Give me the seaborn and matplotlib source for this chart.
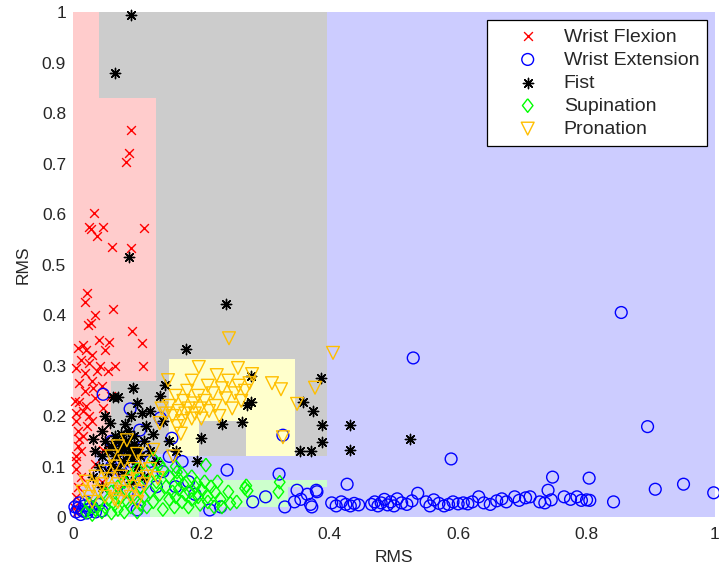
import numpy as np
import pandas as pd
import matplotlib
matplotlib.use("Agg")
import matplotlib.pyplot as plt
from matplotlib.patches import Rectangle
import seaborn as sns

# ---------------- data ----------------
classes = ["Wrist Flexion", "Wrist Extension", "Fist", "Supination", "Pronation"]

flex_x = [0.090,0.087,0.083,0.033,0.025,0.028,0.047,0.037,0.110,0.061,0.090,0.022,0.019,0.062,0.034,0.023,0.028,0.092,0.107,0.056,
          0.109,0.042,0.015,0.008,0.020,0.030,0.012,0.025,0.005,0.038,0.018,0.030,0.010,0.031,0.003,0.010,0.020,0.015,0.005,0.025,
          0.005,0.030,0.008,0.015,0.010,0.008,0.005,0.005,0.005,0.047,0.047,0.060,0.045,0.035,0.018,0.055,0.065,0.050,0.040,0.012,
          0.008,0.004,0.002,0.006,0.035,0.012,0.022,0.065,0.070,0.045]
flex_y = [0.766,0.720,0.703,0.602,0.574,0.570,0.574,0.556,0.572,0.535,0.533,0.444,0.426,0.412,0.400,0.380,0.385,0.368,0.345,0.347,
          0.300,0.300,0.340,0.335,0.330,0.320,0.310,0.305,0.295,0.290,0.285,0.270,0.265,0.255,0.230,0.228,0.220,0.210,0.205,0.200,
          0.190,0.190,0.170,0.160,0.155,0.140,0.120,0.110,0.095,0.215,0.133,0.240,0.260,0.235,0.250,0.290,0.300,0.330,0.350,0.080,
          0.060,0.040,0.020,0.010,0.105,0.130,0.180,0.090,0.055,0.070]

ext_x = [0.854,0.530,0.895,0.589,0.747,0.804,0.907,0.951,0.998,0.842,0.427,0.380,0.537,0.740,0.327,0.240,0.321,0.349,0.379,0.370,
         0.372,0.047,0.089,0.104,0.136,0.154,0.100,0.213,0.150,0.120,0.170,0.180,0.060,0.070,0.110,0.130,
         0.403,0.410,0.418,0.425,0.432,0.438,0.445,0.465,0.470,0.475,0.480,0.485,0.490,0.495,0.500,0.505,0.512,0.520,0.528,
         0.550,0.556,0.562,0.570,0.578,0.585,0.592,0.600,0.608,0.615,0.622,0.632,0.640,0.650,0.660,0.668,0.675,0.688,0.695,
         0.705,0.712,0.727,0.735,0.745,0.765,0.775,0.785,0.792,0.800,0.805,
         0.005,0.008,0.012,0.015,0.018,0.010,0.022,0.025,0.030,0.035,0.040,0.003,0.020,0.045,
         0.060,0.075,0.090,0.105,0.085,0.140,0.160,0.190,0.230,0.280,0.300,0.330,0.345,0.355,0.365]
ext_y = [0.405,0.315,0.179,0.115,0.079,0.077,0.055,0.065,0.048,0.030,0.065,0.050,0.047,0.053,0.162,0.093,0.085,0.053,0.053,0.025,
         0.020,0.243,0.214,0.172,0.196,0.156,0.014,0.014,0.120,0.110,0.110,0.070,0.150,0.130,0.140,0.060,
         0.028,0.022,0.030,0.025,0.022,0.027,0.024,0.025,0.030,0.022,0.028,0.035,0.024,0.030,0.022,0.036,0.028,0.025,0.032,
         0.030,0.022,0.034,0.027,0.022,0.025,0.030,0.026,0.028,0.026,0.030,0.040,0.028,0.025,0.032,0.036,0.030,0.040,0.033,
         0.038,0.040,0.030,0.028,0.034,0.040,0.035,0.040,0.033,0.034,0.033,
         0.010,0.018,0.005,0.012,0.022,0.028,0.008,0.015,0.020,0.010,0.025,0.020,0.030,0.012,
         0.100,0.090,0.110,0.070,0.050,0.090,0.060,0.045,0.020,0.030,0.040,0.020,0.030,0.035,0.045]

fist_x = [0.090,0.065,0.088,0.238,0.176,0.093,0.062,0.070,0.135,0.143,0.058,0.081,0.107,0.114,0.031,0.193,0.031,0.232,0.263,0.200,
          0.354,0.388,0.388,0.374,0.358,0.386,0.277,0.278,0.271,0.431,0.432,0.525,0.370,
          0.050,0.055,0.060,0.065,0.070,0.072,0.075,0.078,0.080,0.082,0.085,0.088,0.090,0.092,0.095,0.098,0.100,0.105,0.110,
          0.065,0.075,0.085,0.095,0.060,0.070,0.045,0.040,0.120,0.125,0.130,0.140,0.045,0.050,0.090,0.100,0.120,0.035,0.055,
          0.080,0.100,0.110,0.090,0.045,0.150,0.160]
fist_y = [0.995,0.880,0.515,0.422,0.333,0.255,0.238,0.238,0.240,0.261,0.186,0.184,0.205,0.180,0.154,0.111,0.080,0.185,0.188,0.157,
          0.131,0.149,0.183,0.210,0.228,0.275,0.279,0.228,0.222,0.133,0.183,0.154,0.130,
          0.150,0.130,0.140,0.120,0.150,0.130,0.140,0.110,0.135,0.150,0.125,0.140,0.130,0.115,0.145,0.125,0.135,0.120,0.150,
          0.160,0.165,0.170,0.160,0.105,0.095,0.120,0.100,0.130,0.165,0.110,0.190,0.170,0.200,0.200,0.225,0.210,0.130,0.090,
          0.085,0.100,0.080,0.070,0.060,0.150,0.130]

sup_x = [0.207,0.268,0.270,0.272,0.322,0.320,0.242,0.221,0.232,0.245,0.193,0.162,0.165,0.210,0.230,0.255,
         0.105,0.110,0.115,0.120,0.125,0.130,0.135,0.140,0.145,0.150,0.155,0.158,0.160,0.165,0.170,0.172,0.175,0.180,0.182,
         0.185,0.190,0.195,0.198,0.200,0.205,0.210,0.215,0.220,0.225,0.150,0.170,0.185,0.140,0.128,0.160,0.115,
         0.020,0.025,0.030,0.035,0.040,0.045,0.050,0.055,0.060,0.065,0.070,0.075,0.080,0.085,0.090,0.095,0.100,0.105,
         0.070,0.080,0.090,0.060,0.050,0.125,0.135,0.100]
sup_y = [0.103,0.057,0.062,0.052,0.069,0.050,0.050,0.050,0.020,0.027,0.067,0.089,0.075,0.040,0.035,0.030,
         0.060,0.040,0.020,0.050,0.030,0.070,0.045,0.015,0.060,0.035,0.050,0.020,0.040,0.055,0.030,0.065,0.045,0.020,0.050,
         0.035,0.060,0.040,0.025,0.055,0.070,0.030,0.060,0.020,0.070,0.080,0.085,0.080,0.095,0.085,0.100,0.090,
         0.010,0.025,0.005,0.015,0.030,0.010,0.020,0.035,0.008,0.025,0.015,0.040,0.010,0.030,0.020,0.045,0.010,0.025,
         0.060,0.070,0.080,0.050,0.045,0.115,0.105,0.095]

pro_x = [0.243,0.405,0.377,0.349,0.310,0.324,0.196,0.257,0.279,0.224,0.148,0.327,0.135,0.084,0.125,0.156,0.132,
         0.150,0.155,0.160,0.165,0.170,0.172,0.175,0.178,0.180,0.185,0.188,0.190,0.195,0.198,0.200,0.205,0.210,0.212,0.218,
         0.222,0.228,0.232,0.238,0.242,0.248,0.252,0.258,0.262,0.268,0.275,0.162,0.168,0.145,0.138,0.185,
         0.015,0.020,0.025,0.030,0.035,0.040,0.045,0.050,0.055,0.060,0.065,0.070,0.075,0.080,0.085,0.090,0.095,0.100,0.105,
         0.110,0.115,0.050,0.065,0.080,0.095,0.030,0.070,0.100,0.060,0.070,0.100,0.110,0.120]
pro_y = [0.354,0.325,0.256,0.224,0.265,0.253,0.297,0.295,0.283,0.281,0.271,0.158,0.186,0.152,0.133,0.120,0.077,
         0.220,0.200,0.240,0.210,0.190,0.230,0.205,0.250,0.215,0.195,0.225,0.205,0.240,0.215,0.195,0.230,0.260,0.210,0.245,
         0.220,0.200,0.255,0.235,0.270,0.215,0.245,0.260,0.230,0.250,0.265,0.180,0.165,0.205,0.215,0.270,
         0.050,0.070,0.040,0.060,0.080,0.050,0.065,0.040,0.075,0.055,0.035,0.065,0.080,0.050,0.070,0.040,0.060,0.075,0.050,
         0.065,0.080,0.090,0.100,0.110,0.095,0.030,0.030,0.030,0.120,0.140,0.125,0.110,0.095]

# decision regions (class index per rectangle: 0 flex, 1 ext, 2 fist, 3 sup, 4 pro)
reg_x0 = [0.000, 0.000, 0.000, 0.000, 0.000, 0.040, 0.130, 0.060, 0.150, 0.346, 0.196, 0.150, 0.150, 0.270, 0.120, 0.196, 0.335, 0.012]
reg_x1 = [0.040, 0.130, 0.060, 0.035, 0.013, 0.396, 0.396, 0.150, 0.396, 0.396, 0.270, 0.346, 0.196, 0.346, 0.196, 0.335, 0.396, 0.085]
reg_y0 = [0.830, 0.270, 0.125, 0.060, 0.000, 0.830, 0.270, 0.125, 0.270, 0.120, 0.120, 0.190, 0.120, 0.120, 0.000, 0.020, 0.060, 0.000]
reg_y1 = [1.000, 0.830, 0.270, 0.125, 0.060, 1.000, 0.830, 0.270, 0.313, 0.270, 0.190, 0.313, 0.190, 0.190, 0.085, 0.073, 0.073, 0.035]
reg_cls = [0, 0, 0, 0, 0, 2, 2, 2, 2, 2, 2, 4, 4, 4, 3, 3, 3, 3]

# ---------------- style ----------------
region_colors = ["#FFCCCC", "#CCCCFF", "#CCCCCC", "#CCFFCC", "#FFFFCC"]
mark_colors = ["#FF0000", "#0000FF", "#000000", "#00FF00", "#FFBF00"]

sns.set_style("white")
plt.rcParams["font.family"] = ["Liberation Sans", "DejaVu Sans"]

fig = plt.figure(figsize=(7.19, 5.73), dpi=100)
ax = fig.add_axes([0.1015, 0.0977, 0.8929, 0.8813])

ax.set_xlim(0, 1)
ax.set_ylim(0, 1)
ax.add_patch(Rectangle((0, 0), 1, 1, facecolor=region_colors[1], edgecolor="none", zorder=0))
for x0, x1, y0, y1, c in zip(reg_x0, reg_x1, reg_y0, reg_y1, reg_cls):
    ax.add_patch(Rectangle((x0, y0), x1 - x0, y1 - y0, facecolor=region_colors[c],
                           edgecolor="none", zorder=0.5))

diamond = [(0, 1), (0.78, 0), (0, -1), (-0.78, 0), (0, 1)]

df_flex = pd.DataFrame({"x": flex_x, "y": flex_y})
df_ext = pd.DataFrame({"x": ext_x, "y": ext_y})
df_fist = pd.DataFrame({"x": fist_x, "y": fist_y})
df_sup = pd.DataFrame({"x": sup_x, "y": sup_y})
df_pro = pd.DataFrame({"x": pro_x, "y": pro_y})

lw = 1.0
sns.scatterplot(data=df_flex, x="x", y="y", marker="x", color=mark_colors[0], s=40,
                linewidth=lw, label=classes[0], ax=ax, zorder=3, clip_on=False)
sns.scatterplot(data=df_ext, x="x", y="y", marker="o", facecolor="none", edgecolor=mark_colors[1],
                s=72, linewidth=lw, label=classes[1], ax=ax, zorder=3, clip_on=False)
sns.scatterplot(data=df_fist, x="x", y="y", marker=(8, 2, 0), color=mark_colors[2], s=55,
                linewidth=lw, label=classes[2], ax=ax, zorder=3, clip_on=False)
sns.scatterplot(data=df_sup, x="x", y="y", marker=diamond, facecolor="none", edgecolor=mark_colors[3],
                s=95, linewidth=lw, label=classes[3], ax=ax, zorder=3, clip_on=False)
sns.scatterplot(data=df_pro, x="x", y="y", marker="v", facecolor="none", edgecolor=mark_colors[4],
                s=85, linewidth=lw, label=classes[4], ax=ax, zorder=3, clip_on=False)

ax.set_xticks([0, 0.2, 0.4, 0.6, 0.8, 1])
ax.set_xticklabels(["0", "0.2", "0.4", "0.6", "0.8", "1"])
ax.set_yticks(np.arange(0, 1.01, 0.1))
ax.set_yticklabels(["0", "0.1", "0.2", "0.3", "0.4", "0.5", "0.6", "0.7", "0.8", "0.9", "1"])
ax.tick_params(axis="x", length=0, labelsize=12.5, pad=7)
ax.tick_params(axis="y", length=0, labelsize=12.5, pad=5)
for sp in ax.spines.values():
    sp.set_visible(False)
ax.set_xlabel("RMS", fontsize=12.5, labelpad=6)
ax.set_ylabel("RMS", fontsize=12.5, labelpad=8)

leg = ax.legend(loc="upper right", bbox_to_anchor=(0.9875, 0.984), fontsize=14,
                frameon=True, fancybox=False, framealpha=1, edgecolor="black",
                borderpad=0.4, labelspacing=0.28, handlelength=3.4, handletextpad=0.15,
                borderaxespad=0)
leg.get_frame().set_linewidth(0.9)

fig.savefig("out.png", dpi=100)
